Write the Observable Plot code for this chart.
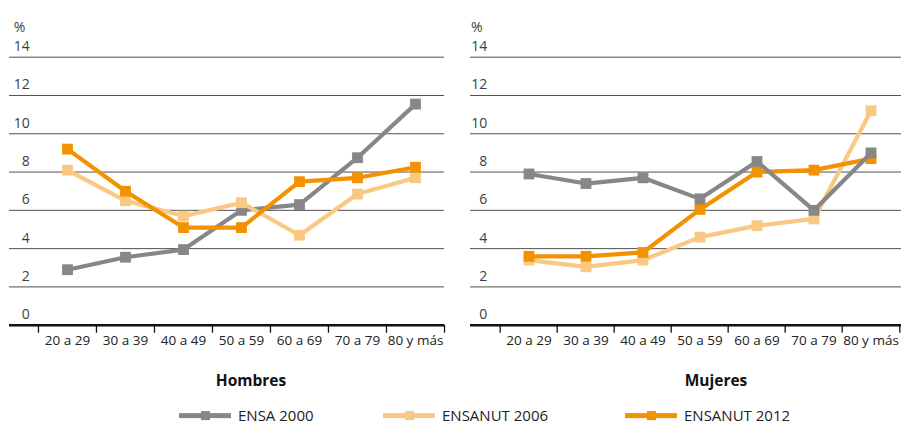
<!DOCTYPE html>
<html>
<head>
<meta charset="utf-8">
<script src="https://cdn.jsdelivr.net/npm/d3@7"></script>
<script src="https://cdn.jsdelivr.net/npm/@observablehq/plot@0.6"></script>
<style>
  body { margin: 0; background: #fff; font-family: 'Open Sans', sans-serif; }
  #wrap { position: relative; width: 901px; height: 425px; overflow: hidden; }
  #wrap svg { position: absolute; top: 0; overflow: visible; }
  .title { position: absolute; font-weight: bold; font-size: 15.5px; line-height: 1.1; color: #111; transform: translate(-50%, -50%); white-space: nowrap; }
  .leg { position: absolute; display: flex; align-items: center; font-size: 15px; line-height: 1.05; color: #222; transform: translateY(-50%); white-space: nowrap; }
  .sw { position: relative; width: 52px; height: 5px; margin-right: 7px; }
  .sw i { position: absolute; left: 21.5px; top: -2px; width: 9px; height: 9px; }
</style>
</head>
<body>
<div id="wrap"></div>
<script>
const ages = ["20 a 29", "30 a 39", "40 a 49", "50 a 59", "60 a 69", "70 a 79", "80 y más"];
const series = ["ENSA 2000", "ENSANUT 2006", "ENSANUT 2012"];
const colors = ["#878787", "#f9c882", "#f29200"];
const yTicks = [0, 2, 4, 6, 8, 10, 12, 14];
const panelTitles = ["Hombres", "Mujeres"];

const hombresEnsa2000   = [2.9, 3.55, 3.95, 6.0, 6.3, 8.75, 11.55];
const hombresEnsanut2006 = [8.1, 6.5, 5.7, 6.4, 4.7, 6.85, 7.7];
const hombresEnsanut2012 = [9.2, 7.0, 5.1, 5.1, 7.5, 7.7, 8.25];

const mujeresEnsa2000   = [7.9, 7.4, 7.7, 6.6, 8.55, 6.0, 9.0];
const mujeresEnsanut2006 = [3.4, 3.05, 3.4, 4.6, 5.2, 5.55, 11.2];
const mujeresEnsanut2012 = [3.6, 3.6, 3.8, 6.05, 8.0, 8.1, 8.7];

function toRows(arrs) {
  const rows = [];
  arrs.forEach((vals, i) => vals.forEach((v, j) => rows.push({series: series[i], age: ages[j], value: v})));
  return rows;
}

const wrap = document.getElementById("wrap");
const H = 355, MT = 56.7, MB = 30.3;

function panel({rows, order, left, width, marginLeft, marginRight, insetLeft, labelDx, pctDx}) {
  const bw = (width - marginLeft - marginRight - insetLeft) / ages.length;
  const marks = [
    Plot.ruleY(yTicks.filter(d => d > 0), {y: d => d, stroke: "#505050", strokeWidth: 1}),
    Plot.ruleY([0], {stroke: "#111", strokeWidth: 2.5}),
    Plot.ruleX(ages, {x: d => d, y1: 0, y2: -0.42, dx: -bw / 2, stroke: "#111", strokeWidth: 1.3}),
    Plot.ruleX([ages[ages.length - 1]], {x: d => d, y1: 0, y2: -0.42, dx: bw / 2, stroke: "#111", strokeWidth: 1.3}),
    Plot.text(yTicks, {y: d => d, text: d => String(d), frameAnchor: "left", dx: labelDx, dy: -10.5, textAnchor: "end", fontSize: 14, fill: "#3a3f46"}),
    Plot.text(["%"], {frameAnchor: "top-left", dx: pctDx, dy: -35, textAnchor: "start", fontSize: 14, fill: "#3a3f46"}),
    Plot.text(ages, {x: d => d, frameAnchor: "bottom", dy: 20, fontSize: 13.5, fill: "#222"})
  ];
  for (const s of order) {
    const d = rows.filter(r => r.series === s);
    marks.push(Plot.line(d, {x: "age", y: "value", stroke: "series", strokeWidth: 4.2, strokeLinejoin: "miter"}));
    marks.push(Plot.dot(d, {x: "age", y: "value", fill: "series", symbol: "square", r: 6.1}));
  }
  const chart = Plot.plot({
    width, height: H,
    marginLeft, marginRight, marginTop: MT, marginBottom: MB,
    style: {fontFamily: "'Open Sans', sans-serif", fontSize: "14px", background: "transparent"},
    x: {type: "band", domain: ages, padding: 0, insetLeft, axis: null},
    y: {domain: [0, 14], axis: null},
    color: {domain: series, range: colors},
    marks
  });
  chart.style.left = left + "px";
  wrap.appendChild(chart);
}

panel({
  rows: toRows([hombresEnsa2000, hombresEnsanut2006, hombresEnsanut2012]),
  order: ["ENSA 2000", "ENSANUT 2006", "ENSANUT 2012"],
  left: 0, width: 450, marginLeft: 9, marginRight: 6, insetLeft: 28.7, labelDx: 20.3, pctDx: 4.3
});
panel({
  rows: toRows([mujeresEnsa2000, mujeresEnsanut2006, mujeresEnsanut2012]),
  order: ["ENSANUT 2006", "ENSANUT 2012", "ENSA 2000"],
  left: 450, width: 451, marginLeft: 20, marginRight: 0, insetLeft: 27.3, labelDx: 16.7, pctDx: 0.5
});

// panel titles
const titleX = [251, 716];
panelTitles.forEach((t, i) => {
  const el = document.createElement("div");
  el.className = "title";
  el.textContent = t;
  el.style.left = titleX[i] + "px";
  el.style.top = "381px";
  wrap.appendChild(el);
});

// legend
const legX = [179, 383, 625];
series.forEach((s, i) => {
  const el = document.createElement("div");
  el.className = "leg";
  el.style.left = legX[i] + "px";
  el.style.top = "416px";
  const sw = document.createElement("div");
  sw.className = "sw";
  sw.style.background = colors[i];
  const m = document.createElement("i");
  m.style.background = colors[i];
  sw.appendChild(m);
  el.appendChild(sw);
  const tx = document.createElement("span");
  tx.textContent = s;
  el.appendChild(tx);
  wrap.appendChild(el);
});
</script>
</body>
</html>
